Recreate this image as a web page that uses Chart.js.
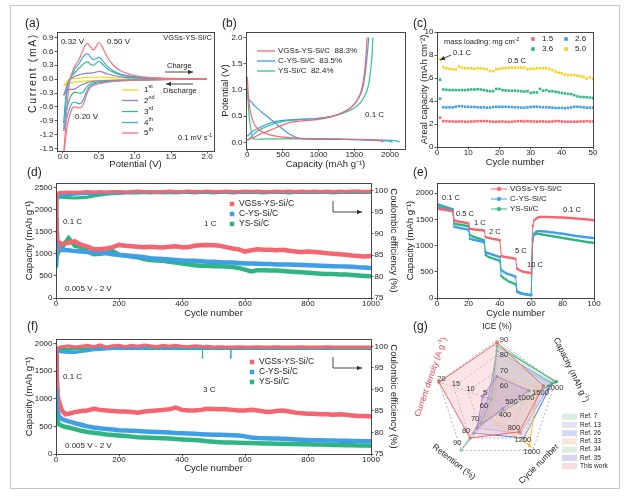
<!DOCTYPE html>
<html>
<head>
<meta charset="utf-8">
<title>VGSs-YS-Si/C electrochemical performance</title>
<script src="https://cdn.jsdelivr.net/npm/chart.js@4.4.1/dist/chart.umd.min.js"></script>
<style>
  html, body { margin: 0; padding: 0; background: #fff; }
  #fig { position: relative; width: 630px; height: 498px; overflow: hidden; background: #fff; }
  #fig canvas { position: absolute; left: 0; top: 0; }
  #frame { position: absolute; left: 10px; top: 5px; width: 608px; height: 482px; border: 1px solid #c6c6c6; }
</style>
</head>
<body>
<div id="fig">
  <div id="frame"></div>
  <canvas id="pa" width="630" height="498"></canvas>
  <canvas id="pb" width="630" height="498"></canvas>
  <canvas id="pc" width="630" height="498"></canvas>
  <canvas id="pd" width="630" height="498"></canvas>
  <canvas id="pe" width="630" height="498"></canvas>
  <canvas id="pf" width="630" height="498"></canvas>
  <canvas id="pg" width="630" height="498"></canvas>
</div>
<script>
// ---- (a) CV, 0.1 mV/s: potential grids (V) and currents (mA) per cycle ----
const cvPotAn = [0.01,0.03,0.05,0.08,0.10,0.14,0.18,0.22,0.26,0.30,0.34,0.38,0.42,0.46,0.50,0.55,0.62,0.70,0.80,0.95,1.10,1.30,1.60,2.00];
const cvPotCa = [2.00,1.60,1.30,1.00,0.80,0.65,0.50,0.42,0.37,0.33,0.30,0.27,0.24,0.21,0.18,0.14,0.10,0.06,0.03,0.01];
const cv1An = [-0.15,-0.1,-0.06,-0.02,0.0,0.01,0.015,0.02,0.025,0.03,0.035,0.04,0.04,0.04,0.045,0.04,0.035,0.03,0.025,0.015,0.01,0.005,0.0,0.0];
const cv1Ca = [0.0,-0.003,-0.006,-0.01,-0.015,-0.02,-0.025,-0.03,-0.035,-0.04,-0.045,-0.05,-0.055,-0.06,-0.065,-0.07,-0.08,-0.1,-0.12,-0.15];
const cv2An = [-0.35,-0.25,-0.15,-0.05,0.0,0.04,0.07,0.09,0.11,0.12,0.13,0.13,0.14,0.15,0.17,0.15,0.11,0.08,0.05,0.03,0.02,0.01,0.005,0.005];
const cv2Ca = [0.0,-0.005,-0.01,-0.015,-0.02,-0.03,-0.04,-0.05,-0.06,-0.08,-0.1,-0.12,-0.14,-0.17,-0.2,-0.22,-0.22,-0.25,-0.3,-0.35];
const cv3An = [-0.95,-0.55,-0.25,-0.03,0.02,0.1,0.17,0.23,0.29,0.35,0.37,0.32,0.30,0.34,0.38,0.32,0.22,0.15,0.09,0.05,0.03,0.015,0.01,0.01];
const cv3Ca = [0.0,-0.005,-0.01,-0.02,-0.03,-0.04,-0.06,-0.08,-0.11,-0.17,-0.24,-0.29,-0.31,-0.30,-0.28,-0.3,-0.4,-0.6,-0.8,-0.95];
const cv4An = [-1.1,-0.7,-0.35,-0.05,0.02,0.15,0.25,0.33,0.43,0.52,0.55,0.48,0.42,0.44,0.47,0.40,0.27,0.18,0.11,0.06,0.035,0.018,0.01,0.01];
const cv4Ca = [0.0,-0.005,-0.01,-0.02,-0.035,-0.05,-0.08,-0.11,-0.16,-0.26,-0.38,-0.48,-0.53,-0.53,-0.5,-0.5,-0.6,-0.8,-1.0,-1.12];
const cv5An = [-1.6,-1.2,-0.7,-0.2,0.0,0.2,0.32,0.42,0.56,0.70,0.77,0.70,0.63,0.70,0.79,0.68,0.46,0.30,0.18,0.09,0.05,0.025,0.012,0.01];
const cv5Ca = [0.0,-0.005,-0.012,-0.025,-0.04,-0.06,-0.1,-0.14,-0.2,-0.32,-0.47,-0.58,-0.62,-0.62,-0.6,-0.61,-0.75,-1.0,-1.35,-1.65];

// ---- (b) first charge/discharge at 0.1 C: capacity (mAh/g) and potential (V) ----
const redDisCap = [0,10,25,50,80,120,180,260,360,500,700,1000,1300,1600,1800,1880,1905];
const redDisV = [1.25,1.0,0.75,0.55,0.4,0.3,0.22,0.17,0.13,0.1,0.08,0.07,0.065,0.055,0.04,0.025,0.005];
const redChCap = [0,100,200,300,400,500,600,700,850,1000,1200,1350,1450,1530,1590,1630,1655,1670,1680];
const redChV = [0.04,0.1,0.17,0.22,0.28,0.33,0.38,0.4,0.42,0.44,0.5,0.58,0.66,0.78,0.95,1.2,1.5,1.8,2.0];
const blueDisCap = [0,50,100,200,300,400,500,600,680,720,800,1000,1400,1800,2000,2035];
const blueDisV = [0.85,0.78,0.7,0.58,0.47,0.36,0.25,0.15,0.1,0.08,0.065,0.06,0.055,0.04,0.02,0.005];
const blueChCap = [0,50,100,200,300,400,500,700,900,1100,1250,1380,1480,1560,1620,1660,1690,1700];
const blueChV = [0.12,0.18,0.23,0.3,0.36,0.4,0.42,0.44,0.45,0.47,0.52,0.6,0.7,0.85,1.05,1.4,1.8,2.0];
const greenDisCap = [0,15,30,50,70,90,120,300,700,1200,1600,1900,2100,2135];
const greenDisV = [1.05,0.7,0.45,0.25,0.12,0.07,0.06,0.065,0.065,0.06,0.055,0.045,0.025,0.005];
const greenChCap = [0,50,150,300,500,700,1000,1200,1350,1480,1580,1650,1700,1730,1750,1760];
const greenChV = [0.04,0.1,0.22,0.32,0.4,0.43,0.46,0.5,0.56,0.64,0.75,0.9,1.1,1.4,1.7,2.0];
const bLegend = ['VGSs-YS-Si/C  88.3%', 'C-YS-Si/C  83.5%', 'YS-Si/C  82.4%'];

// ---- (c) areal capacity (mAh/cm2) vs cycle for four mass loadings ----
const areaCycles = [1,2,3,4,5,6,7,8,9,10,11,12,13,14,15,16,17,18,19,20,21,22,23,24,25,26,27,28,29,30,31,32,33,34,35,36,37,38,39,40,41,42,43,44,45,46,47,48,49,50];
const load15 = [2.55,2.25,2.25,2.22,2.22,2.2,2.22,2.22,2.2,2.2, 2.22,2.22,2.25,2.25,2.25,2.25,2.22,2.2,2.2,2.2, 2.22,2.2,2.18,2.2,2.22,2.25,2.25,2.22,2.25,2.22, 2.22,2.2,2.22,2.22,2.2,2.2,2.22,2.25,2.25,2.22, 2.2,2.2,2.2,2.2,2.2,2.22,2.22,2.25,2.22,2.22];
const load26 = [4.2,3.45,3.45,3.45,3.45,3.5,3.55,3.55,3.5,3.5, 3.48,3.48,3.45,3.45,3.45,3.42,3.42,3.48,3.5,3.5, 3.5,3.5,3.48,3.48,3.45,3.45,3.42,3.42,3.45,3.48, 3.5,3.5,3.48,3.45,3.45,3.45,3.42,3.4,3.4,3.4, 3.38,3.4,3.45,3.5,3.5,3.48,3.45,3.42,3.42,3.42];
const load36 = [5.85,5.0,4.98,4.95,4.95,4.95,4.95,4.95,4.95,4.98, 5.0,5.0,5.02,5.0,4.95,4.9,4.85,4.85,5.05,5.05, 4.95,4.92,4.9,4.9,4.9,4.88,4.85,4.82,4.85,4.7, 4.75,4.75,5.05,4.9,4.95,4.85,4.85,4.8,4.75,4.7, 4.65,4.62,4.6,4.5,4.4,4.35,4.35,4.32,4.3,4.25];
const load50 = [7.65,6.95,6.85,6.8,6.75,6.75,7.0,6.9,6.85,6.85, 6.85,6.8,6.85,6.85,6.8,6.75,6.6,6.6,6.75,6.8, 6.85,6.85,6.9,6.9,6.9,6.9,6.9,6.9,6.75,6.8, 6.8,6.85,6.85,6.85,6.85,6.8,6.7,6.55,6.45,6.4, 6.3,6.25,6.25,6.25,6.2,6.15,6.1,5.95,6.05,5.9];
const loadNames = ['1.5', '2.6', '3.6', '5.0'];

// ---- (d) long cycling at 1 C: capacity (mAh/g) and coulombic efficiency (%) ----
const cycD = [1,2,3,4,5,7,10,15, 20,40,60,80,100,120,140,160,180,200, 220,240,260,280,300,320,340,360,380,400, 420,440,460,480,500,520,540,560,580,600, 620,640,660,680,700,720,740,760,780,800, 820,840,860,880,900,920,940,960,980,1000];
const capDRed = [1620,1700,1550,1250,1180,1150,1250,1220, 1230,1250,1280,1200,1160,1100,1100,1120,1150,1200, 1180,1170,1160,1150,1160,1150,1140,1160,1170,1150, 1150,1180,1190,1200,1190,1180,1150,1120,1100,1050, 1080,1100,1090,1090,1080,1090,1070,1050,1040,1050, 1040,1030,1010,1000,990,980,960,950,940,950];
const capDBlue = [1500,1700,1300,1150,1100,1100,1100,1100, 1090,1080,1060,1050,1040,1030,1020,1010,990,970, 960,950,940,920,900,890,880,870,860,850, 840,840,830,820,820,810,800,800,790,780, 780,775,770,770,760,760,755,750,745,740, 735,730,725,720,715,710,705,695,690,680];
const capDGreen = [1450,1800,1500,1250,1000,1050,1150,1100, 1150,1350,1180,1150,1050,990,1000,1030,1060,980, 960,940,920,880,860,850,840,820,800,780, 760,740,730,730,720,720,710,700,680,640, 600,630,630,620,620,610,600,590,580,570, 560,550,540,540,530,530,520,510,500,490];
const ceDRed = [88.3,97.5,98.8,99.2,99.4,99.5,99.5,99.6, 99.6,99.7,99.6,99.7,99.8,99.7,99.8,99.7,99.8,99.8, 99.7,99.8,99.9,99.8,99.8,99.7,99.8,99.9,99.8,99.8, 99.9,99.8,99.8,99.9,99.8,99.8,99.9,99.8,99.8,99.9, 99.8,99.9,99.8,99.8,99.9,99.8,99.9,99.8,99.9,99.8, 99.9,99.8,99.9,99.8,99.9,99.8,99.9,99.9,99.8,99.9];
const ceDBlue = [83.5,96.0,97.8,98.4,98.7,98.8,98.9,99.0, 99.0,99.1,99.2,99.3,99.4,99.4,99.5,99.5,99.6,99.6, 99.6,99.7,99.7,99.7,99.7,99.7,99.8,99.7,99.8,99.7, 99.8,99.7,99.8,99.7,99.8,99.7,99.8,99.7,99.8,99.7, 99.8,99.7,99.8,99.7,99.8,99.7,99.8,99.7,99.8,99.7, 99.8,99.7,99.8,99.7,99.8,99.7,99.8,99.7,99.8,99.7];
const ceDGreen = [82.4,95.5,97.5,98.2,98.5,98.6,98.6,98.5, 98.5,98.4,98.3,98.4,98.5,98.8,99.0,99.2,99.3,99.4, 99.5,99.5,99.5,99.6,99.5,99.6,99.5,99.6,99.5,99.6, 99.6,99.5,99.6,99.6,99.5,99.6,99.6,99.5,99.6,99.6, 99.6,99.6,99.5,99.6,99.6,99.6,99.5,99.6,99.6,99.6, 99.6,99.6,99.6,99.5,99.6,99.6,99.6,99.6,99.6,99.6];

// ---- (e) rate capability: capacity (mAh/g) per cycle ----
const rateCycles = Array.from({ length: 100 }, (_, i) => i + 1);
const rateRed = [1700,1690,1690,1685,1680,1675,1670,1665,1660,1650, 1480,1470,1460,1455,1450,1445,1440,1435,1430,1420, 1320,1315,1310,1305,1300,1300,1295,1295,1290,1285, 1160,1150,1145,1140,1130,1125,1120,1115,1110,1100, 800,790,785,780,775,770,765,760,755,745, 560,540,525,510,500,495,490,485,480,470, 1380,1480,1510,1530,1540,1545,1545,1545,1545,1545, 1545,1540,1540,1540,1540,1540,1535,1535,1535,1535, 1530,1530,1530,1525,1525,1520,1520,1515,1515,1510, 1510,1505,1505,1500,1500,1495,1495,1490,1485,1480];
const rateBlue = [1730,1725,1720,1715,1710,1705,1700,1695,1690,1680, 1360,1350,1345,1340,1330,1325,1320,1315,1310,1300, 1130,1120,1110,1105,1100,1090,1085,1080,1070,1060, 880,860,850,840,830,820,810,800,790,780, 530,510,490,470,460,450,440,430,420,405, 120,100,90,80,75,70,65,60,55,50, 1100,1230,1260,1270,1275,1275,1270,1270,1265,1265, 1260,1255,1250,1250,1245,1240,1235,1230,1230,1225, 1220,1215,1210,1205,1200,1195,1190,1185,1180,1180, 1175,1170,1165,1160,1160,1155,1150,1150,1145,1140];
const rateGreen = [1780,1770,1760,1750,1740,1730,1720,1710,1700,1690, 1420,1410,1405,1400,1395,1390,1385,1380,1375,1370, 1200,1185,1170,1160,1150,1140,1130,1120,1110,1100, 820,800,780,770,760,750,740,730,720,700, 420,390,370,350,330,310,300,290,275,260, 130,110,100,90,80,75,70,65,60,60, 1150,1200,1220,1225,1220,1215,1210,1205,1200,1195, 1190,1185,1180,1175,1170,1165,1160,1155,1150,1145, 1140,1135,1130,1125,1120,1115,1110,1105,1100,1095, 1090,1085,1080,1075,1070,1065,1060,1060,1055,1050];

// ---- (f) long cycling at 3 C ----
const cycF = [1,2,3,4,5,7,10,15,20,30, 40,60,80,100,120,140,160,180,200,220, 240,260,280,300,320,340,360,380,400,420, 440,460,480,500,520,540,560,580,600,620, 640,660,680,700,720,740,760,780,800,820, 840,860,880,900,920,940,960,980,1000];
const capFRed = [1850,1750,1500,1200,1100,1000,950,850,780,720, 730,760,780,790,820,800,790,780,770,770, 760,750,770,780,790,800,810,840,800,790, 790,800,820,815,810,810,800,790,790,800, 790,770,760,780,790,770,750,740,730,730, 720,720,710,720,710,700,690,690,680];
const capFBlue = [1800,1500,1000,850,780,720,680,650,630,610, 590,560,530,500,480,465,455,445,430,425, 420,415,410,405,400,395,390,380,375,370, 365,360,355,350,350,345,340,335,320,300, 290,285,280,280,275,270,265,260,255,250, 250,245,245,240,240,235,235,230,230];
const capFGreen = [1250,900,700,620,580,560,540,520,510,490, 480,450,420,400,385,370,355,345,335,325, 315,305,300,295,290,285,280,270,265,260, 255,245,230,220,215,210,210,205,200,198, 195,192,190,188,185,183,180,178,175,172, 170,168,165,162,160,158,156,155,150];
const cycFce = [1,2,3,5,10, 20,40,60,80,100,120,140,160,180,200, 220,240,260,280,300,320,340,360,380,400, 420,440,460,465,470,480,500,520,540,555, 560,580,600,620,640,660,680,700,720,740, 760,780,800,820,840,860,880,900,920,940, 960,980,1000];
const ceFRed = [90.5,97.5,99.0,99.5,99.8, 99.9,100.1,99.8,100.0,100.2,99.9,100.3,99.8,100.1,100.2, 99.9,100.2,100.0,100.3,100.1,99.9,100.2,100.0,100.2,100.0, 99.9,100.1,100.0,99.9,99.9,100.0,99.8,99.9,99.8,99.8, 99.8,99.9,99.8,99.8,99.9,99.8,99.8,99.9,99.8,99.8, 99.8,99.9,99.8,99.8,99.8,99.9,99.8,99.8,99.8,99.8, 99.8,99.8,99.8];
const ceFBlue = [85.0,96.0,98.0,98.6,98.8, 98.7,98.6,98.6,98.8,99.0,99.2,99.3,99.4,99.5,99.5, 99.6,99.6,99.6,99.7,99.7,99.7,99.7,99.7,99.7,99.7, 99.7,99.7,99.7,99.7,99.7,99.7,99.7,99.7,99.7,99.7, 99.7,99.7,99.7,99.7,99.7,99.7,99.7,99.7,99.7,99.7, 99.7,99.7,99.7,99.7,99.7,99.7,99.7,99.7,99.7,99.7, 99.7,99.7,99.7];
const ceFGreen = [82.0,95.0,97.8,98.8,99.2, 99.3,99.3,99.4,99.4,99.4,99.5,99.5,99.5,99.5,99.5, 99.5,99.5,99.5,99.5,99.5,99.5,99.5,99.5,99.5,99.5, 99.5,99.5,99.5,99.5,99.5,99.5,99.5,99.5,99.5,99.5, 99.5,99.5,99.5,99.5,99.5,99.5,99.5,99.5,99.5,99.5, 99.5,99.5,99.5,99.5,99.5,99.5,99.5,99.5,99.5,99.5, 99.5,99.5,99.5];
// single-cycle CE drops in (f): cycle, band value, dropped value, series index (1 blue, 2 green)
const ceFDropCycle = [465, 555];
const ceFDropTop = [99.5, 99.7];
const ceFDropLow = [97.4, 97.4];
const ceFDropSeries = [2, 1];
const sampleNames = ['VGSs-YS-Si/C', 'C-YS-Si/C', 'YS-Si/C'];

// ---- (g) literature comparison (ICE %, capacity mAh/g, cycles, retention %, current density A/g) ----
const refNames = ['Ref. 7', 'Ref. 13', 'Ref. 26', 'Ref. 33', 'Ref. 34', 'Ref. 35', 'This work'];
const refICE = [88, 80, 83, 66, 86, 66, 88.3];
const refCap = [2000, 1850, 1900, 1400, 2050, 1100, 1600];
const refCycle = [100, 1050, 1200, 1450, 300, 250, 1000];
const refRet = [90, 72, 76, 62, 68, 72, 80];
const refCD = [1, 2, 3, 1, 2, 5, 20];
const radarMin = [50, 0, 0, 50, 0];
const radarMax = [90, 2000, 1600, 90, 20];
const radarTicks = [[60, 70, 80, 90], [500, 1000, 1500, 2000], [400, 800, 1200, 1600], [60, 70, 80, 90], [5, 10, 15, 20]];

const RED = '#f4656f', BLUE = '#3f9fe6', GREEN = '#2fb582', YELLOW = '#f5d21e';
const FF = "'Liberation Sans', Arial, Helvetica, sans-serif";
Chart.defaults.font.family = FF;
Chart.defaults.color = '#222';
Chart.defaults.animation = false;
Chart.defaults.responsive = false;
Chart.defaults.events = [];
Chart.defaults.plugins.legend.display = false;
Chart.defaults.plugins.tooltip.enabled = false;

function pts(xs, ys) { return xs.map((x, i) => ({ x: x, y: ys[i] })); }

function txt(ctx, s, x, y, o) {
  o = o || {};
  ctx.save();
  ctx.font = (o.size || 8) + 'px ' + FF;
  ctx.fillStyle = o.color || '#222';
  ctx.textAlign = o.align || 'left';
  ctx.textBaseline = 'middle';
  if (o.spacing) ctx.letterSpacing = o.spacing + 'px';
  ctx.translate(x, y);
  if (o.rot) ctx.rotate(o.rot * Math.PI / 180);
  ctx.fillText(s, 0, 0);
  ctx.restore();
}

// text with superscript parts: [[text, isSup], ...]
function rich(ctx, parts, x, y, size, o) {
  o = o || {};
  ctx.save();
  ctx.fillStyle = o.color || '#222';
  ctx.textBaseline = 'middle';
  const fonts = parts.map(p => (p[1] ? size * 0.68 : size) + 'px ' + FF);
  let w = 0;
  parts.forEach((p, i) => { ctx.font = fonts[i]; w += ctx.measureText(p[0]).width; });
  ctx.translate(x, y);
  if (o.rot) ctx.rotate(o.rot * Math.PI / 180);
  let cx = o.align === 'center' ? -w / 2 : o.align === 'right' ? -w : 0;
  parts.forEach((p, i) => {
    ctx.font = fonts[i];
    ctx.fillText(p[0], cx, p[1] ? -size * 0.38 : 0);
    cx += ctx.measureText(p[0]).width;
  });
  ctx.restore();
}

function arrow(ctx, path, color) {
  ctx.save();
  ctx.strokeStyle = color; ctx.fillStyle = color; ctx.lineWidth = 0.9;
  ctx.beginPath();
  path.forEach((p, i) => i ? ctx.lineTo(p[0], p[1]) : ctx.moveTo(p[0], p[1]));
  ctx.stroke();
  const [x2, y2] = path[path.length - 1], [x1, y1] = path[path.length - 2];
  const a = Math.atan2(y2 - y1, x2 - x1), L = 5, W = 2.2;
  ctx.beginPath();
  ctx.moveTo(x2, y2);
  ctx.lineTo(x2 - L * Math.cos(a) + W * Math.sin(a), y2 - L * Math.sin(a) - W * Math.cos(a));
  ctx.lineTo(x2 - L * Math.cos(a) - W * Math.sin(a), y2 - L * Math.sin(a) + W * Math.cos(a));
  ctx.closePath(); ctx.fill();
  ctx.restore();
}

function square(ctx, x, y, s, color) { ctx.fillStyle = color; ctx.fillRect(x - s / 2, y - s / 2, s, s); }

function seg(ctx, x1, x2, y, color, w) {
  ctx.save(); ctx.strokeStyle = color; ctx.lineWidth = w || 1.2;
  ctx.beginPath(); ctx.moveTo(x1, y); ctx.lineTo(x2, y); ctx.stroke(); ctx.restore();
}

function frame(ctx, a) {
  ctx.save(); ctx.strokeStyle = '#333'; ctx.lineWidth = 0.9;
  ctx.strokeRect(Math.round(a.left) + 0.5, Math.round(a.top) + 0.5, Math.round(a.right - a.left), Math.round(a.bottom - a.top));
  ctx.restore();
}

function axis(pos, min, max, tks, dec, title, size) {
  return {
    type: 'linear', position: pos, min: min, max: max,
    afterBuildTicks: s => { s.ticks = tks.map(v => ({ value: v })); },
    afterFit: s => { if (pos === 'bottom') s.height = size; else s.width = size; },
    ticks: { font: { size: 8 }, color: '#222', padding: pos === 'bottom' ? -2 : 1, maxRotation: 0, autoSkip: false, callback: v => v.toFixed(dec) },
    grid: { drawOnChartArea: false, tickLength: 2.5, color: '#333', lineWidth: 0.8 },
    border: { display: false },
    title: { display: title !== null, text: title || '', font: { size: 9.5 }, color: '#222', padding: { top: 4, bottom: 4 } }
  };
}

// area = [left, top, right, bottom] of the plot box in page pixels
function panel(id, area, yw, xh, y2w, scales, datasets, draw) {
  return new Chart(document.getElementById(id), {
    type: 'scatter',
    data: { datasets: datasets },
    options: {
      layout: { padding: { left: area[0] - yw, top: area[1], right: 630 - area[2] - y2w, bottom: 498 - area[3] - xh } },
      scales: scales
    },
    plugins: [{ id: id + 'Deco', afterDraw: c => { frame(c.ctx, c.chartArea); draw(c.ctx, c); } }]
  });
}

function lineSet(data, color, w, extra) {
  return Object.assign({ data: data, showLine: true, borderColor: color, backgroundColor: color, borderWidth: w, pointRadius: 0 }, extra || {});
}

// ---------- (a) ----------
const cvColors = ['#f5d322', '#8d80cf', '#33b88a', '#43a9e7', '#f7707b'];
const cvAn = [cv1An, cv2An, cv3An, cv4An, cv5An];
const cvCa = [cv1Ca, cv2Ca, cv3Ca, cv4Ca, cv5Ca];
const cvSets = [];
for (let i = 4; i >= 0; i--) {
  cvSets.push(lineSet(pts(cvPotAn, cvAn[i]), cvColors[i], 1.2, { cubicInterpolationMode: 'monotone' }));
  cvSets.push(lineSet(pts(cvPotCa, cvCa[i]), cvColors[i], 1.2, { cubicInterpolationMode: 'monotone' }));
}
panel('pa', [57, 32, 214, 151], 34, 23.5, 0, {
  x: axis('bottom', -0.083, 2.097, [0, 0.5, 1, 1.5, 2], 1, 'Potential (V)', 23.5),
  y: axis('left', -1.552, 1.017, [-1.5, -1.2, -0.9, -0.6, -0.3, 0, 0.3, 0.6, 0.9], 1, null, 34)
}, cvSets, ctx => {
  txt(ctx, 'Current (mA)', 33, 73, { size: 10.5, align: 'center', rot: -90, spacing: 1.6 });
  txt(ctx, '(a)', 25, 24, { size: 12 });
  txt(ctx, '0.32 V', 61, 42);
  txt(ctx, '0.50 V', 107, 42);
  txt(ctx, 'VGSs-YS-Si/C', 212, 38, { size: 7.5, align: 'right' });
  txt(ctx, 'Charge', 167, 66, { size: 7.5 });
  arrow(ctx, [[165, 72], [193, 72]], '#333');
  arrow(ctx, [[193, 84], [166, 84]], '#333');
  txt(ctx, 'Discharge', 163, 91, { size: 7.5 });
  txt(ctx, '0.20 V', 75, 117);
  const sups = ['st', 'nd', 'rd', 'th', 'th'];
  const ys = [90, 100.5, 111.5, 122.5, 133];
  for (let i = 0; i < 5; i++) {
    seg(ctx, 122, 138, ys[i], cvColors[i], 1.3);
    rich(ctx, [[String(i + 1), 0], [sups[i], 1]], 144, ys[i], 8);
  }
  rich(ctx, [['0.1 mV s', 0], ['-1', 1]], 212, 138, 7.5, { align: 'right' });
});

// ---------- (b) ----------
const bColors = [RED, BLUE, '#3dbf98'];
panel('pb', [246, 32, 405, 149], 30, 25, 0, {
  x: axis('bottom', -18, 2210, [0, 500, 1000, 1500, 2000], 0, 'Capacity (mAh g\u207B\u00B9)', 25),
  y: axis('left', -0.126, 2.103, [0, 0.5, 1, 1.5, 2], 1, 'Potential (V)', 30)
}, [
  lineSet(pts(redDisCap, redDisV), bColors[0], 1.2, { cubicInterpolationMode: 'monotone' }),
  lineSet(pts(redChCap, redChV), bColors[0], 1.2, { cubicInterpolationMode: 'monotone' }),
  lineSet(pts(blueDisCap, blueDisV), bColors[1], 1.2, { cubicInterpolationMode: 'monotone' }),
  lineSet(pts(blueChCap, blueChV), bColors[1], 1.2, { cubicInterpolationMode: 'monotone' }),
  lineSet(pts(greenDisCap, greenDisV), bColors[2], 1.2, { cubicInterpolationMode: 'monotone' }),
  lineSet(pts(greenChCap, greenChV), bColors[2], 1.2, { cubicInterpolationMode: 'monotone' })
], ctx => {
  txt(ctx, '(b)', 222, 24, { size: 12 });
  [51, 61, 71].forEach((y, i) => {
    seg(ctx, 257, 275, y, bColors[i], 1.3);
    txt(ctx, bLegend[i], 278, y, { size: 8 });
  });
  txt(ctx, '0.1 C', 365, 115);
});

// ---------- (c) ----------
const cColors = [RED, BLUE, GREEN, YELLOW];
const cSeries = [load15, load26, load36, load50];
panel('pc', [437, 32, 593, 147], 22, 25, 0, {
  x: axis('bottom', 0, 50, [0, 10, 20, 30, 40, 50], 0, 'Cycle number', 25),
  y: axis('left', 0, 10, [0, 2, 4, 6, 8, 10], 0, 'Areal capacity (mAh cm\u207B\u00B2)', 22)
}, cSeries.map((s, i) => ({
  data: pts(areaCycles, s), showLine: false, pointStyle: 'rect', pointRadius: 1.8,
  pointBorderWidth: 0, backgroundColor: cColors[i], borderColor: cColors[i]
})), ctx => {
  txt(ctx, '(c)', 413, 24, { size: 12 });
  rich(ctx, [['mass loading: mg cm', 0], ['-2', 1]], 444, 42, 7.5);
  const lx = [533, 566, 533, 566], ly = [39, 39, 49, 49];
  for (let i = 0; i < 4; i++) {
    square(ctx, lx[i], ly[i], 3.6, cColors[i]);
    txt(ctx, loadNames[i], lx[i] + 9, ly[i], { size: 8 });
  }
  txt(ctx, '0.1 C', 453, 53, { size: 7.5 });
  arrow(ctx, [[451, 55], [440, 60]], '#333');
  txt(ctx, '0.5 C', 508, 61, { size: 7.5 });
});

// ---------- (d) and (f): cycling with coulombic efficiency ----------
const sColors = [RED, BLUE, GREEN];
function cyclingPanel(id, area, xh, yMax, y2Max, yTicks, cyc, caps, cycCe, ces, extraSets, label, legendY, notes) {
  const sets = [];
  for (let i = 0; i < 3; i++) sets.push(lineSet(pts(cycCe, ces[i]), sColors[i], 3.2, { yAxisID: 'y2' }));
  extraSets.forEach(s => sets.push(s));
  for (let i = 0; i < 3; i++) sets.push(lineSet(pts(cyc, caps[i]), sColors[i], 4.5));
  return panel(id, area, 36, xh, 32, {
    x: axis('bottom', 0, 1000, [0, 200, 400, 600, 800, 1000], 0, 'Cycle number', xh),
    y: axis('left', 0, yMax, yTicks, 0, 'Capacity (mAh g\u207B\u00B9)', 36),
    y2: axis('right', 75, y2Max, [75, 80, 85, 90, 95, 100], 0, 'Coulombic efficiency (%)', 32)
  }, sets, ctx => {
    txt(ctx, label[0], label[1], label[2], { size: 12 });
    for (let i = 0; i < 3; i++) {
      square(ctx, legendY[0], legendY[1] + i * 10, 4.5, sColors[i]);
      txt(ctx, sampleNames[i], legendY[0] + 7, legendY[1] + i * 10, { size: 8.5 });
    }
    notes.forEach(n => txt(ctx, n[0], n[1], n[2], { size: 8 }));
    const ay = legendY[2];
    arrow(ctx, [[333, ay], [333, ay + 11], [362, ay + 11]], '#333');
  });
}

cyclingPanel('pd', [56, 183, 371, 298], 25, 2600, 101.8, [0, 500, 1000, 1500, 2000, 2500],
  cycD, [capDRed, capDBlue, capDGreen], cycD, [ceDRed, ceDBlue, ceDGreen], [],
  ['(d)', 27, 173], [232, 204, 201],
  [['0.1 C', 63, 222], ['1 C', 204, 224], ['0.005 V - 2 V', 65, 289]]);

const dropSets = ceFDropCycle.map((c, i) => lineSet([{ x: c, y: ceFDropTop[i] }, { x: c, y: ceFDropLow[i] }],
  sColors[ceFDropSeries[i]], 0.9, { yAxisID: 'y2', pointRadius: [0, 1.6], pointStyle: 'triangle', pointBorderWidth: 0 }));
cyclingPanel('pf', [56, 339, 371, 454], 24, 2085, 101.7, [0, 500, 1000, 1500, 2000],
  cycF, [capFRed, capFBlue, capFGreen], cycFce, [ceFRed, ceFBlue, ceFGreen], dropSets,
  ['(f)', 27, 327], [252, 362, 357],
  [['0.1 C', 63, 377], ['3 C', 203, 390], ['0.005 V - 2 V', 65, 446]]);

// ---------- (e) ----------
const eSeries = [rateRed, rateBlue, rateGreen];
panel('pe', [437, 183, 594, 298], 36, 25, 0, {
  x: axis('bottom', 0, 100, [0, 20, 40, 60, 80, 100], 0, 'Cycle number', 25),
  y: axis('left', 0, 2192, [0, 500, 1000, 1500, 2000], 0, 'Capacity (mAh g\u207B\u00B9)', 36)
}, eSeries.map((s, i) => lineSet(pts(rateCycles, s), sColors[i], 1, {
  pointStyle: 'rect', pointRadius: 1.6, pointBorderWidth: 0, pointBackgroundColor: sColors[i]
})), ctx => {
  txt(ctx, '(e)', 413, 173, { size: 12 });
  [189, 199, 209].forEach((y, i) => {
    seg(ctx, 491, 507, y, sColors[i], 1);
    square(ctx, 499, y, 3.6, sColors[i]);
    txt(ctx, sampleNames[i], 510, y, { size: 8 });
  });
  [['0.1 C', 442, 198], ['0.5 C', 456, 214], ['1 C', 474, 223], ['2 C', 489, 232],
   ['5 C', 515, 251], ['10 C', 527, 265], ['0.1 C', 563, 210]].forEach(n => txt(ctx, n[0], n[1], n[2], { size: 7.5 }));
});

// ---------- (g) radar ----------
const gBorder = ['#86cfa0', '#a99fdc', '#5b78d6', '#f2c14e', '#3daa6a', '#6f57bd', '#f2646e'];
const gFill = ['rgba(190,230,205,0.35)', 'rgba(205,198,238,0.35)', 'rgba(170,182,235,0.3)', 'rgba(246,220,180,0.35)',
  'rgba(185,230,205,0.3)', 'rgba(150,130,205,0.35)', 'rgba(246,196,198,0.45)'];
const gLegendFill = ['#d7efe0', '#e6e2f5', '#d5d9f2', '#f8e8d5', '#d9f0e2', '#d9d4f0', '#f9dcdd'];
const norm = (v, k) => Math.min(4.1, (v - radarMin[k]) / (radarMax[k] - radarMin[k]) * 4);
const gSets = refNames.map((n, i) => ({
  label: n,
  data: [refICE[i], refCap[i], refCycle[i], refRet[i], refCD[i]].map((v, k) => norm(v, k)),
  borderColor: gBorder[i], backgroundColor: gFill[i], borderWidth: 1, fill: true,
  pointRadius: 1.6, pointBorderWidth: 0, pointBackgroundColor: gBorder[i],
  order: i === 6 ? 0 : 7 - i
}));
const gOff = [[7, 0], [0, 6], [-1, 2], [-4, -7], [2.5, -3]];
new Chart(document.getElementById('pg'), {
  type: 'radar',
  data: { labels: ['ICE (%)', 'Capacity', 'Cycle number', 'Retention (%)', 'Current density'], datasets: gSets },
  options: {
    layout: { padding: { left: 436, top: 340, right: 72, bottom: 36 } },
    scales: {
      r: {
        min: 0, max: 4,
        ticks: { display: false, stepSize: 1 },
        pointLabels: { display: false },
        grid: { color: '#9a9a9a', lineWidth: 0.8 },
        border: { dash: [2, 2] },
        angleLines: { color: '#9a9a9a', lineWidth: 0.8, borderDash: [2, 2] }
      }
    }
  },
  plugins: [{
    id: 'pgDeco',
    afterDraw: c => {
      const ctx = c.ctx, s = c.scales.r;
      radarTicks.forEach((tks, k) => tks.forEach((t, j) => {
        const p = s.getPointPositionForValue(k, j + 1);
        txt(ctx, String(t), p.x + gOff[k][0], p.y + gOff[k][1], { size: 7.5, align: 'center', color: '#333' });
      }));
      txt(ctx, '(g)', 413, 327, { size: 12 });
      txt(ctx, 'ICE (%)', 497, 327, { size: 8.5, align: 'center' });
      rich(ctx, [['Capacity (mAh g', 0], ['-1', 1], [')', 0]], 571, 370, 8.5, { align: 'center', rot: 64 });
      txt(ctx, 'Cycle number', 539, 464, { size: 8.5, align: 'center', rot: -45 });
      txt(ctx, 'Retention (%)', 454, 462, { size: 8.5, align: 'center', rot: 38 });
      rich(ctx, [['Current density (A g', 0], ['-1', 1], [')', 0]], 431, 377, 8.5, { align: 'center', rot: -71, color: '#e8414e' });
      refNames.forEach((n, i) => {
        const y = 416.7 + i * 8.25;
        ctx.fillStyle = gLegendFill[i];
        ctx.fillRect(562, y - 3, 15, 6);
        txt(ctx, n, 580, y, { size: 6.5 });
      });
    }
  }]
});
</script>
</body>
</html>
